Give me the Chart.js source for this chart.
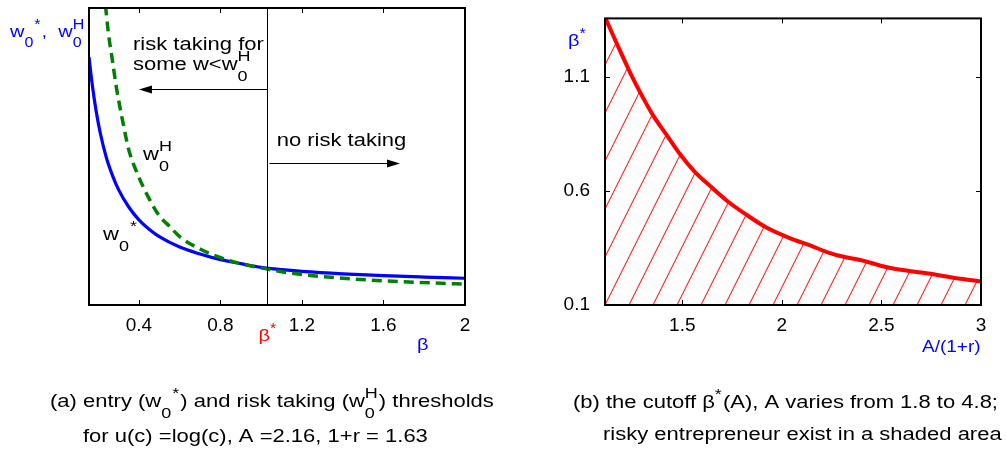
<!DOCTYPE html>
<html>
<head>
<meta charset="utf-8">
<script src="https://cdn.jsdelivr.net/npm/chart.js@4/dist/chart.umd.min.js"></script>
<style>
  body { margin: 0; background: #fff; width: 1006px; height: 450px; position: relative; overflow: hidden; }
  .box { position: absolute; top: 0; width: 503px; height: 450px; }
</style>
</head>
<body>
<div class="box" style="left:0"><canvas id="left"></canvas></div>
<div class="box" style="left:503px"><canvas id="right"></canvas></div>
<script>
// ---- panel (a): thresholds against beta ----
const betaBlue = [0.155, 0.17, 0.19, 0.21, 0.24, 0.27, 0.3, 0.35, 0.4, 0.45, 0.5, 0.6, 0.7, 0.8, 0.9, 1.0, 1.1, 1.2, 1.4, 1.6, 1.8, 2.0];
const w0Star   = [2.505, 2.24, 1.96, 1.74, 1.49, 1.31, 1.165, 0.99, 0.86, 0.765, 0.69, 0.585, 0.515, 0.458, 0.418, 0.38, 0.357, 0.34, 0.315, 0.296, 0.282, 0.270];
const betaGreen = [0.22, 0.234, 0.25, 0.27, 0.29, 0.32, 0.35, 0.4, 0.45, 0.5, 0.55, 0.6, 0.7, 0.8, 0.9, 1.0, 1.1, 1.2, 1.4, 1.6, 1.8, 2.0];
const w0H       = [3.51, 3.08, 2.75, 2.47, 2.19, 1.86, 1.57, 1.29, 1.075, 0.90, 0.795, 0.69, 0.565, 0.478, 0.416, 0.375, 0.335, 0.308, 0.270, 0.244, 0.226, 0.210];
const betaTicks = [0.4, 0.8, 1.2, 1.6, 2];
const betaStar = 1.03;

// ---- panel (b): cutoff beta*(A) against A/(1+r) ----
const ratioA  = [1.112, 1.171, 1.238, 1.296, 1.355, 1.422, 1.489, 1.564, 1.640, 1.732, 1.824, 1.925, 2.042, 2.142, 2.226, 2.310, 2.393, 2.545, 2.711, 2.896, 3.0];
const betaCut = [1.36, 1.245, 1.118, 1.019, 0.928, 0.844, 0.760, 0.682, 0.621, 0.551, 0.494, 0.438, 0.392, 0.361, 0.332, 0.311, 0.297, 0.262, 0.241, 0.215, 0.203];
const ratioTicks = [1.5, 2, 2.5, 3];
const cutTicks = [0.1, 0.6, 1.1];

const FONT = '"Liberation Sans", Arial, Helvetica, sans-serif';
const SQUASH = 0.86;

// text with sub/superscripts, parts: strings or {sub, sup}
function rich(ctx, x, y, parts, size, color) {
  ctx.save();
  ctx.translate(x, y);
  ctx.scale(1, SQUASH);
  ctx.fillStyle = color;
  ctx.textAlign = 'left';
  ctx.textBaseline = 'alphabetic';
  const big = size + 'px ' + FONT;
  const small = Math.round(size * 0.8) + 'px ' + FONT;
  let cx = 0;
  for (const p of parts) {
    if (typeof p === 'string') {
      ctx.font = big;
      ctx.fillText(p, cx, 0);
      cx += ctx.measureText(p).width;
    } else {
      ctx.font = small;
      let w = 0;
      if (p.sub) { ctx.fillText(p.sub, cx, size * 0.6); w = ctx.measureText(p.sub).width; }
      if (p.sup) { ctx.fillText(p.sup, cx, -size * 0.48); w = Math.max(w, ctx.measureText(p.sup).width); }
      cx += w + 1;
    }
  }
  ctx.restore();
}

function arrow(ctx, x1, x2, y) {
  const dir = Math.sign(x2 - x1);
  ctx.beginPath();
  ctx.moveTo(x1, y);
  ctx.lineTo(x2 - dir * 10, y);
  ctx.stroke();
  ctx.beginPath();
  ctx.moveTo(x2, y);
  ctx.lineTo(x2 - dir * 13, y - 4);
  ctx.lineTo(x2 - dir * 13, y + 4);
  ctx.closePath();
  ctx.fill();
}

// box round the plot with inward ticks
const frame = {
  id: 'frame',
  afterDraw(chart, args, opts) {
    const { ctx, chartArea: a, scales: { x, y } } = chart;
    ctx.save();
    ctx.strokeStyle = '#000';
    ctx.lineWidth = 1;
    ctx.beginPath();
    x.ticks.forEach(t => {
      const px = Math.round(x.getPixelForValue(t.value)) + 0.5;
      if (px < a.left + 2 || px > a.right - 2) return;
      ctx.moveTo(px, a.bottom); ctx.lineTo(px, a.bottom - 5);
      ctx.moveTo(px, a.top); ctx.lineTo(px, a.top + 5);
    });
    if (opts.yTicks) y.ticks.forEach(t => {
      const py = Math.round(y.getPixelForValue(t.value)) + 0.5;
      if (py < a.top + 2 || py > a.bottom - 2) return;
      ctx.moveTo(a.left, py); ctx.lineTo(a.left + 5, py);
      ctx.moveTo(a.right, py); ctx.lineTo(a.right - 5, py);
    });
    ctx.stroke();
    ctx.lineWidth = 2;
    ctx.strokeRect(a.left, a.top, a.right - a.left, a.bottom - a.top);
    ctx.restore();
  }
};

function options(xr, yr, xt, yt, yWidth, rightPad, yTicks) {
  return {
    responsive: true,
    maintainAspectRatio: false,
    animation: false,
    layout: { padding: { left: 0, top: 8, right: rightPad, bottom: 0 } },
    plugins: { legend: { display: false }, tooltip: { enabled: false }, frame: { yTicks } },
    scales: {
      x: {
        type: 'linear', min: xr[0], max: xr[1],
        grid: { display: false }, border: { display: false },
        afterBuildTicks: s => { s.ticks = xt.map(v => ({ value: v })); },
        afterFit: s => { s.height = 145; },
        ticks: { padding: 1, color: '#000', font: { family: FONT, size: 19 }, maxRotation: 0, autoSkip: false, callback: v => String(v) }
      },
      y: {
        type: 'linear', min: yr[0], max: yr[1],
        grid: { display: false }, border: { display: false },
        afterBuildTicks: s => { s.ticks = yt.map(v => ({ value: v })); },
        afterFit: s => { s.width = yWidth; },
        ticks: { display: yt.length > 0, padding: 7, color: '#000', font: { family: FONT, size: 19 }, autoSkip: false, callback: v => String(v) }
      }
    }
  };
}

// annotations of panel (a), placed in data units
const leftNotes = {
  id: 'leftNotes',
  afterDatasetsDraw(chart) {
    const { ctx, chartArea: a, scales: { x, y } } = chart;
    ctx.save();
    ctx.strokeStyle = '#000';
    ctx.fillStyle = '#000';
    ctx.lineWidth = 1;
    const bx = Math.round(x.getPixelForValue(betaStar)) + 0.5;
    ctx.beginPath(); ctx.moveTo(bx, a.top); ctx.lineTo(bx, a.bottom); ctx.stroke();
    arrow(ctx, bx, x.getPixelForValue(0.40), Math.round(y.getPixelForValue(2.179)) + 0.5);
    arrow(ctx, bx + 2, x.getPixelForValue(1.681), Math.round(y.getPixelForValue(1.437)) + 0.5);
    rich(ctx, x.getPixelForValue(0.371), y.getPixelForValue(2.576), ['risk taking for'], 22, '#000');
    rich(ctx, x.getPixelForValue(0.371), y.getPixelForValue(2.374), ['some w<w', { sub: '0', sup: 'H' }], 22, '#000');
    rich(ctx, x.getPixelForValue(1.076), y.getPixelForValue(1.606), ['no risk taking'], 22, '#000');
    rich(ctx, x.getPixelForValue(0.42), y.getPixelForValue(1.465), ['w', { sub: '0', sup: 'H' }], 22, '#000');
    rich(ctx, x.getPixelForValue(0.224), y.getPixelForValue(0.657), ['w', { sub: '0' }, { sup: '*' }], 22, '#000');
    // axis names
    rich(ctx, a.left - 79, a.top + 29, ['w', { sub: '0' }, { sup: '*' }, ',  w', { sub: '0', sup: 'H' }], 20, '#0000ff');
    rich(ctx, bx - 9, a.bottom + 36, ['β', { sup: '*' }], 20, '#ff0000');
    rich(ctx, a.right - 48, a.bottom + 45, ['β'], 20, '#0000ff');
    // caption
    rich(ctx, 50, 407, ['(a) entry (w', { sub: '0' }, { sup: '*' }, ') and risk taking (w', { sub: '0', sup: 'H' }, ') thresholds'], 22, '#000');
    rich(ctx, 83, 442, ['for u(c) =log(c), A =2.16, 1+r = 1.63'], 22, '#000');
    ctx.restore();
  }
};

const rightNotes = {
  id: 'rightNotes',
  afterDraw(chart) {
    const { ctx, chartArea: a } = chart;
    rich(ctx, a.left - 37, a.top + 28, ['β', { sup: '*' }], 20, '#0000ff');
    rich(ctx, a.right - 59, a.bottom + 47, ['A/(1+r)'], 19, '#0000ff');
    rich(ctx, 70, 408, ['(b) the cutoff β', { sup: '*' }, '(A), A varies from 1.8 to 4.8;'], 22, '#000');
    rich(ctx, 100, 440, ['risky entrepreneur exist in a shaded area'], 22, '#000');
  }
};

// thin red diagonal hatching, phase matched to the canvas position
function hatch(phase) {
  const c = document.createElement('canvas');
  c.width = 24; c.height = 48;
  const g = c.getContext('2d');
  g.strokeStyle = '#ff0000';
  g.lineWidth = 1;
  for (let k = -2; k <= 2; k++) {
    g.beginPath();
    g.moveTo(phase + 24 * k, 0);
    g.lineTo(phase - 24 + 24 * k, 48);
    g.stroke();
  }
  return g.createPattern(c, 'repeat');
}

new Chart(document.getElementById('left'), {
  type: 'line',
  data: {
    datasets: [
      { data: betaGreen.map((b, i) => ({ x: b, y: w0H[i] })), borderColor: '#008000', borderWidth: 3.5, borderDash: [10, 6],
        pointRadius: 0, cubicInterpolationMode: 'monotone', fill: false },
      { data: betaBlue.map((b, i) => ({ x: b, y: w0Star[i] })), borderColor: '#0000ff', borderWidth: 3.2,
        pointRadius: 0, cubicInterpolationMode: 'monotone', fill: false }
    ]
  },
  options: options([0.155, 2], [0, 3], betaTicks, [], 89, 38, false),
  plugins: [frame, leftNotes]
});

new Chart(document.getElementById('right'), {
  type: 'line',
  data: {
    datasets: [
      { data: ratioA.map((r, i) => ({ x: r, y: betaCut[i] })), borderColor: '#ff0000', borderWidth: 4,
        pointRadius: 0, cubicInterpolationMode: 'monotone', fill: 'start', backgroundColor: hatch(14.5) }
    ]
  },
  options: options([1.112, 3], [0.1, 1.355], ratioTicks, cutTicks, 102, 25, true),
  plugins: [frame, rightNotes]
});
</script>
</body>
</html>
